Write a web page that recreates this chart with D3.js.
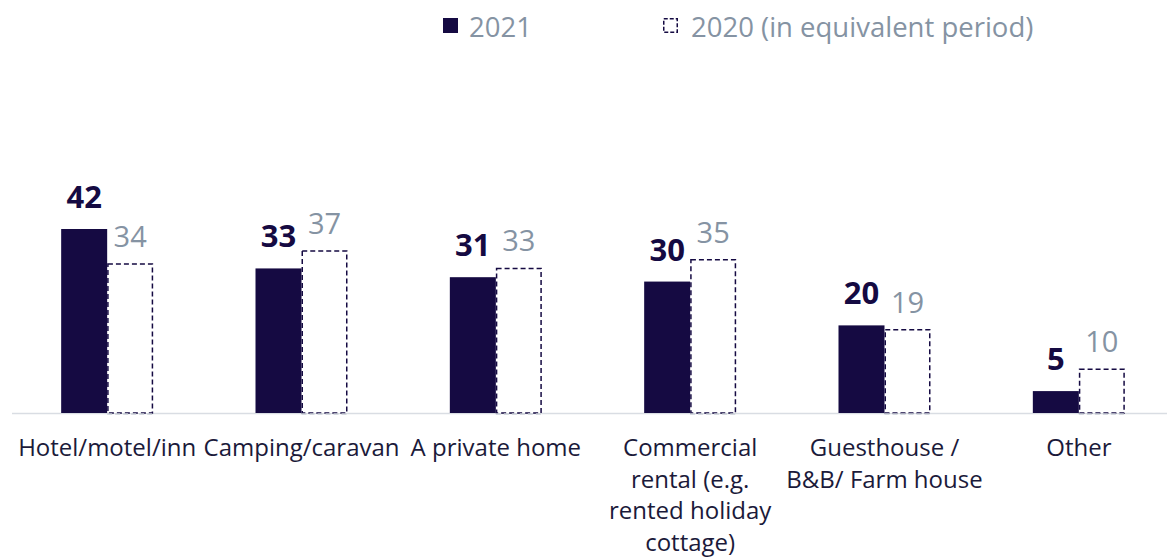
<!DOCTYPE html>
<html>
<head>
<meta charset="utf-8">
<script src="https://cdn.jsdelivr.net/npm/d3@7"></script>
<style>
  body { margin: 0; background: #fff; }
  svg { display: block; font-family: "Open Sans", Lato, sans-serif; font-style: normal; }
</style>
</head>
<body>
<svg id="chart" width="1167" height="558"></svg>
<script>
// Chart data
const categories = [
  "Hotel/motel/inn",
  "Camping/caravan",
  "A private home",
  "Commercial\nrental (e.g.\nrented holiday\ncottage)",
  "Guesthouse /\nB&B/ Farm house",
  "Other"
];
const series = ["2021", "2020 (in equivalent period)"];
const values2021 = [42, 33, 31, 30, 20, 5];
const values2020 = [34, 37, 33, 35, 19, 10];

const navy = "#150a42";
const grey = "#8593a3";

const svg = d3.select("#chart");
const width = 1167;
const baseline = 413;

const data = categories.map((c, i) => ({ cat: c, v: [values2021[i], values2020[i]] }));

// Scales
const x0 = d3.scaleBand().domain(categories).range([10, 1176]);
const barW = 46;
const x1 = d3.scaleBand().domain(series)
  .range([x0.bandwidth() / 2 - barW, x0.bandwidth() / 2 + barW]);
const y = d3.scaleLinear().domain([0, 42]).range([baseline, 229]);

// Axis line
svg.append("line")
  .attr("x1", 12).attr("x2", width)
  .attr("y1", baseline + 0.5).attr("y2", baseline + 0.5)
  .attr("stroke", "#d9dde3").attr("stroke-width", 1.5);

const groups = svg.append("g").selectAll("g")
  .data(data).join("g")
  .attr("transform", d => `translate(${x0(d.cat)},0)`);

// 2021 bars
groups.append("rect")
  .attr("x", x1(series[0]))
  .attr("y", d => y(d.v[0]))
  .attr("width", x1.bandwidth())
  .attr("height", d => baseline - y(d.v[0]))
  .attr("fill", navy);

// 2020 bars (dashed outline)
groups.append("rect")
  .attr("x", x1(series[1]) + 0.75)
  .attr("y", d => y(d.v[1]))
  .attr("width", x1.bandwidth() - 1.5)
  .attr("height", d => baseline - y(d.v[1]))
  .attr("fill", "#fff")
  .attr("stroke", navy)
  .attr("stroke-width", 1.5)
  .attr("stroke-dasharray", "5,3");

// light dashed bottom edge over the axis
groups.append("line")
  .attr("x1", x1(series[1]))
  .attr("x2", x1(series[1]) + x1.bandwidth())
  .attr("y1", baseline + 1).attr("y2", baseline + 1)
  .attr("stroke", "#c9ced6").attr("stroke-width", 1.5)
  .attr("stroke-dasharray", "5,3");

// Value labels
groups.append("text")
  .attr("x", x1(series[0]) + x1.bandwidth() / 2)
  .attr("y", d => y(d.v[0]) - 21)
  .attr("text-anchor", "middle")
  .attr("font-size", 31)
  .attr("font-weight", "bold")
  .attr("fill", navy)
  .text(d => d.v[0]);

groups.append("text")
  .attr("x", x1(series[1]) + x1.bandwidth() / 2)
  .attr("y", d => y(d.v[1]) - 17)
  .attr("text-anchor", "middle")
  .attr("font-size", 29)
  .attr("fill", grey)
  .text(d => d.v[1]);

// Category labels
groups.append("text")
  .attr("text-anchor", "middle")
  .attr("font-size", 24)
  .attr("fill", "#1b1a3a")
  .selectAll("tspan")
  .data(d => d.cat.split("\n"))
  .join("tspan")
  .attr("x", x0.bandwidth() / 2)
  .attr("y", (d, i) => 456 + i * 31.6)
  .text(d => d);

// Legend
const legendItems = [
  { label: series[0], x: 443, dashed: false },
  { label: series[1], x: 663, dashed: true }
];
const legend = svg.append("g").selectAll("g")
  .data(legendItems).join("g")
  .attr("transform", d => `translate(${d.x},18)`);

legend.append("rect")
  .attr("x", d => d.dashed ? 0.75 : 0)
  .attr("y", d => d.dashed ? 0.75 : 0)
  .attr("width", d => d.dashed ? 13.5 : 15)
  .attr("height", d => d.dashed ? 13.5 : 15)
  .attr("fill", d => d.dashed ? "#fff" : navy)
  .attr("stroke", d => d.dashed ? navy : "none")
  .attr("stroke-width", 1.5)
  .attr("stroke-dasharray", "4,2");

legend.append("text")
  .attr("x", d => d.dashed ? 28 : 26)
  .attr("y", 19)
  .attr("font-size", 27.5)
  .attr("fill", grey)
  .text(d => d.label);
</script>
</body>
</html>
